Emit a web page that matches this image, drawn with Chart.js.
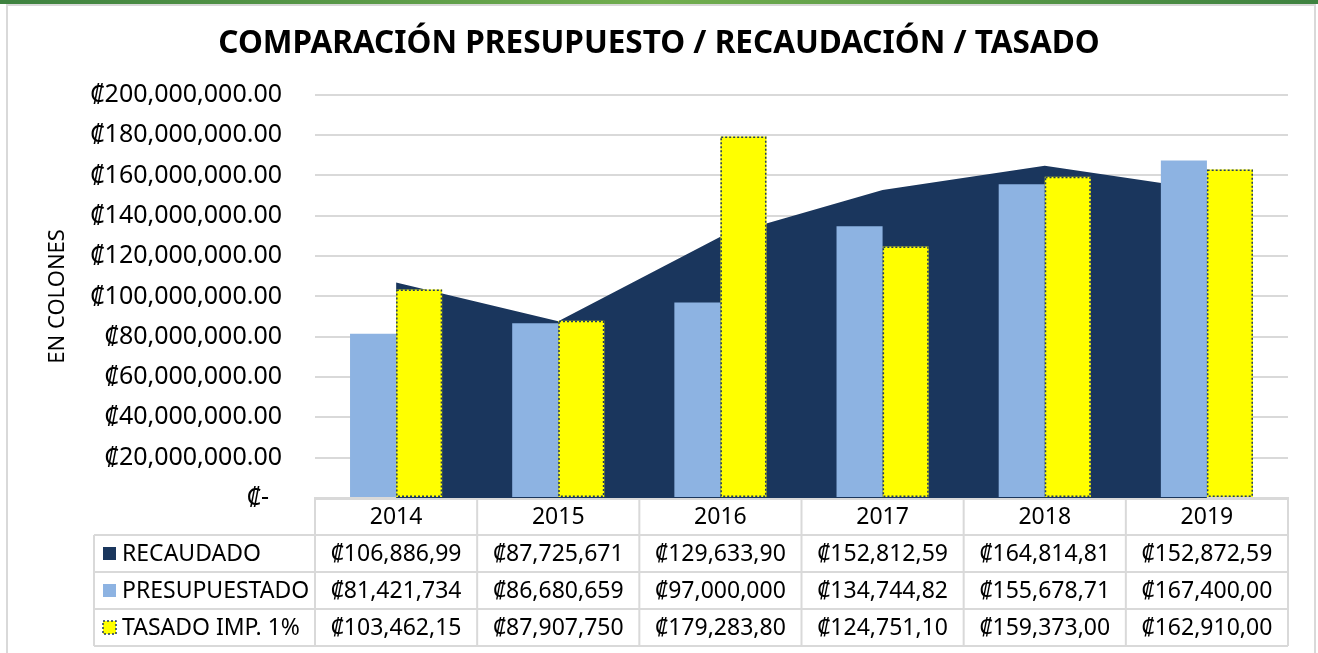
<!DOCTYPE html>
<html lang="es">
<head>
<meta charset="UTF-8">
<title>Comparación Presupuesto / Recaudación / Tasado</title>
<script src="https://cdn.jsdelivr.net/npm/chart.js"></script>
<style>
    body { margin: 0; padding: 0; background: #fff; }
    canvas { display: block; }
</style>
</head>
<body>
<canvas id="chart" width="1318" height="653"></canvas>
<script>
    // data
    const years = ['2014', '2015', '2016', '2017', '2018', '2019'];
    const recaudado = [106886990, 87725671, 129633900, 152812590, 164814810, 152872590];
    const presupuestado = [81421734, 86680659, 97000000, 134744820, 155678710, 167400000];
    const tasado = [103462150, 87907750, 179283800, 124751100, 159373000, 162910000];
    const seriesNames = ['RECAUDADO', 'PRESUPUESTADO', 'TASADO IMP. 1%'];
    const yMax = 200000000;
    const yStep = 20000000;

    const NAVY = '#1A365D';
    const LIGHT = '#8DB3E2';
    const YELLOW = '#FFFF00';
    const DOTS = '#1F3864';
    const GRID = '#D9D9D9';
    const FONT = 'Noto Sans, DejaVu Sans, sans-serif';

    // table cells show the value cut to 11 characters, like the sheet does
    function cellText(v) {
        return ('₡' + Math.round(v).toLocaleString('en-US')).slice(0, 11);
    }

    function tickText(v) {
        if (v === 0) return '₡-  ';
        return '₡' + v.toLocaleString('en-US', { minimumFractionDigits: 2, maximumFractionDigits: 2 });
    }

    // frame and green strip behind the chart
    const framePlugin = {
        id: 'frame',
        beforeDraw(chart) {
            const ctx = chart.ctx;
            ctx.save();
            ctx.fillStyle = '#fff';
            ctx.fillRect(0, 0, chart.width, chart.height);
            const g = ctx.createLinearGradient(0, 0, chart.width, 0);
            g.addColorStop(0, '#3E8240');
            g.addColorStop(0.5, '#72AE4F');
            g.addColorStop(1, '#3E8240');
            ctx.fillStyle = g;
            ctx.fillRect(0, 0, chart.width, 4);
            ctx.strokeStyle = GRID;
            ctx.lineWidth = 2;
            ctx.strokeRect(7, 5, chart.width - 10, chart.height + 10);
            ctx.restore();
        }
    };

    // dotted outline on the yellow bars
    const dottedBars = {
        id: 'dottedBars',
        afterDatasetsDraw(chart) {
            const meta = chart.getDatasetMeta(2);
            const ctx = chart.ctx;
            ctx.save();
            ctx.strokeStyle = DOTS;
            ctx.lineWidth = 1.5;
            ctx.setLineDash([2, 2]);
            meta.data.forEach(bar => {
                const p = bar.getProps(['x', 'y', 'base', 'width'], true);
                ctx.strokeRect(p.x - p.width / 2 + 0.75, p.y + 0.75, p.width - 1.5, p.base - p.y - 1.5);
            });
            ctx.restore();
        }
    };

    // Excel style data table under the plot
    const dataTable = {
        id: 'dataTable',
        afterDraw(chart) {
            const ctx = chart.ctx;
            const area = chart.chartArea;
            const xs = chart.scales.x;
            const cw = (area.right - area.left) / years.length;
            const top = area.bottom;
            const hdrH = 37, rowH = 37;
            const labelLeft = 94;
            const rows = [recaudado, presupuestado, tasado];

            ctx.save();
            ctx.strokeStyle = GRID;
            ctx.lineWidth = 2;
            ctx.beginPath();
            ctx.moveTo(area.left, top + 1);
            ctx.lineTo(area.right, top + 1);
            for (let r = 0; r <= rows.length; r++) {
                const y = top + hdrH + r * rowH;
                ctx.moveTo(labelLeft, y);
                ctx.lineTo(area.right, y);
            }
            const bottom = top + hdrH + rows.length * rowH;
            for (let i = 0; i <= years.length; i++) {
                const x = area.left + i * cw;
                ctx.moveTo(x, top);
                ctx.lineTo(x, bottom);
            }
            ctx.moveTo(labelLeft, top + hdrH);
            ctx.lineTo(labelLeft, bottom);
            ctx.stroke();

            ctx.fillStyle = '#000';
            ctx.font = '23px ' + FONT;
            ctx.textAlign = 'center';
            ctx.textBaseline = 'middle';
            years.forEach((yr, i) => {
                ctx.fillText(yr, xs.getPixelForValue(i), top + hdrH / 2 + 1);
            });
            rows.forEach((vals, r) => {
                const cy = top + hdrH + r * rowH + rowH / 2 + 1;
                vals.forEach((v, i) => {
                    ctx.fillText(cellText(v), xs.getPixelForValue(i), cy);
                });
            });

            // series names with keys
            ctx.textAlign = 'left';
            ctx.font = '23px ' + FONT;
            seriesNames.forEach((name, r) => {
                const cy = top + hdrH + r * rowH + rowH / 2;
                const kx = 103, ks = 13;
                if (r === 0) {
                    ctx.fillStyle = NAVY;
                    ctx.fillRect(kx, cy - ks / 2, ks, ks);
                } else if (r === 1) {
                    ctx.fillStyle = LIGHT;
                    ctx.fillRect(kx, cy - ks / 2, ks, ks);
                } else {
                    ctx.fillStyle = YELLOW;
                    ctx.fillRect(kx, cy - ks / 2, ks, ks);
                    ctx.strokeStyle = DOTS;
                    ctx.lineWidth = 1.5;
                    ctx.setLineDash([2, 2]);
                    ctx.strokeRect(kx, cy - ks / 2, ks, ks);
                    ctx.setLineDash([]);
                }
                ctx.fillStyle = '#000';
                ctx.fillText(name, 122, cy + 1);
            });
            ctx.restore();
        }
    };

    new Chart(document.getElementById('chart'), {
        type: 'bar',
        data: {
            labels: years,
            datasets: [
                {
                    type: 'line',
                    label: seriesNames[0],
                    data: recaudado,
                    backgroundColor: NAVY,
                    borderColor: NAVY,
                    borderWidth: 0,
                    pointRadius: 0,
                    fill: 'origin',
                    tension: 0,
                    order: 1
                },
                {
                    label: seriesNames[1],
                    data: presupuestado,
                    backgroundColor: LIGHT,
                    borderWidth: 0,
                    categoryPercentage: 0.568,
                    barPercentage: 1,
                    order: 0
                },
                {
                    label: seriesNames[2],
                    data: tasado,
                    backgroundColor: YELLOW,
                    borderWidth: 0,
                    categoryPercentage: 0.568,
                    barPercentage: 1,
                    order: 0
                }
            ]
        },
        options: {
            responsive: false,
            animation: false,
            layout: { padding: 0 },
            plugins: {
                legend: { display: false },
                tooltip: { enabled: false },
                title: {
                    display: true,
                    text: 'COMPARACIÓN PRESUPUESTO / RECAUDACIÓN / TASADO',
                    color: '#000',
                    font: { family: FONT, size: 31.5, weight: 'bold' },
                    padding: { top: 25, bottom: 32 }
                }
            },
            scales: {
                x: {
                    grid: { display: false },
                    ticks: { display: false },
                    border: { display: true, color: GRID, width: 2 },
                    afterFit: s => { s.height = 155; }
                },
                y: {
                    min: 0,
                    max: yMax,
                    ticks: {
                        stepSize: yStep,
                        color: '#000',
                        font: { family: FONT, size: 25 },
                        padding: 33,
                        callback: v => tickText(v)
                    },
                    grid: { color: GRID, lineWidth: 2, drawTicks: false },
                    border: { display: false },
                    title: {
                        display: true,
                        text: 'EN COLONES',
                        color: '#000',
                        font: { family: FONT, size: 22 },
                        padding: { top: 45, bottom: 0 }
                    },
                    afterFit: s => { s.width = 315; }
                },
                y2: {
                    position: 'right',
                    display: true,
                    grid: { display: false },
                    ticks: { display: false },
                    border: { display: false },
                    afterFit: s => { s.width = 30; }
                }
            }
        },
        plugins: [framePlugin, dottedBars, dataTable]
    });
</script>
</body>
</html>
